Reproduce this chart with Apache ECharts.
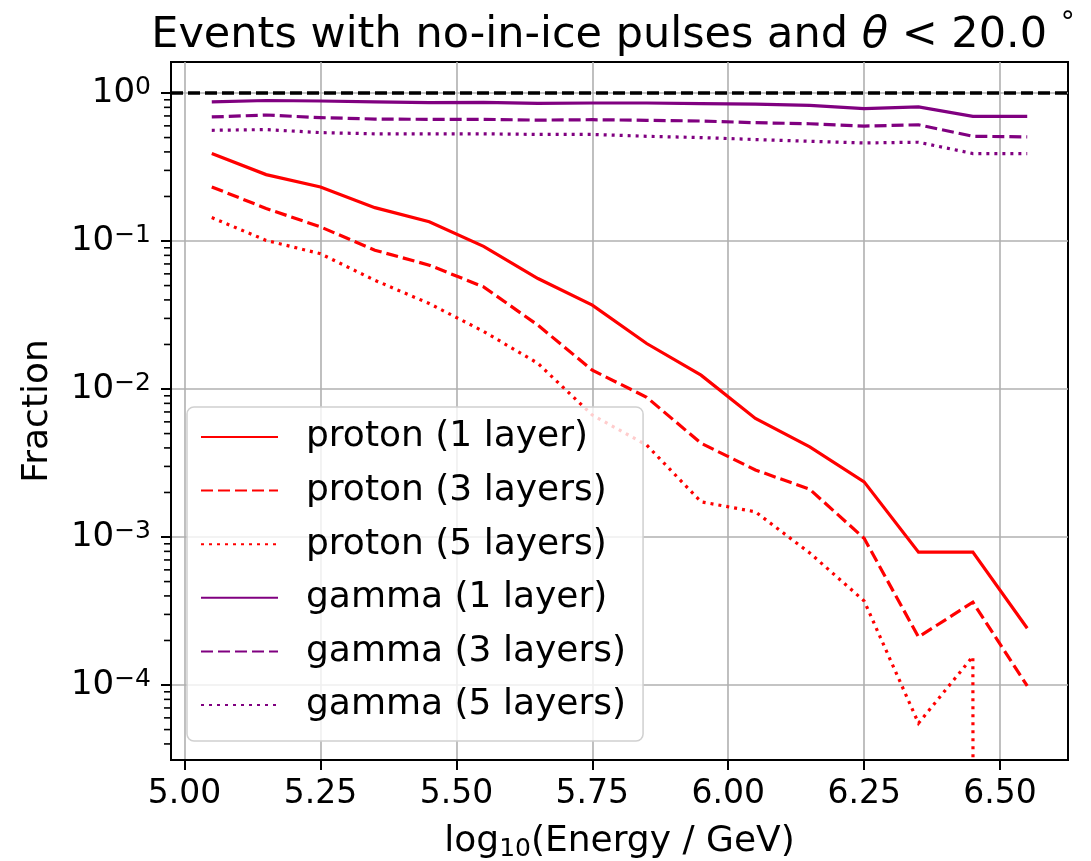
<!DOCTYPE html>
<html>
<head>
<meta charset="utf-8">
<script src="https://cdn.jsdelivr.net/npm/echarts@6/dist/echarts.min.js"></script>
<style>
html,body{margin:0;padding:0;background:#fff;}
#c{width:1091px;height:861px;}
</style>
</head>
<body>
<div id="c"></div>
<script>
// ---- data ----
const energy = [5.05, 5.15, 5.25, 5.35, 5.45, 5.55, 5.65, 5.75, 5.85, 5.95, 6.05, 6.15, 6.25, 6.35, 6.45, 6.55];
const proton1 = [0.39, 0.281, 0.232, 0.168, 0.135, 0.092, 0.0558, 0.0369, 0.0203, 0.0124, 0.00632, 0.00407, 0.00236, 0.00079, 0.00079, 0.000242];
const proton3 = [0.232, 0.166, 0.1245, 0.0867, 0.0687, 0.049, 0.027, 0.0134, 0.0088, 0.0043, 0.00284, 0.0021, 0.00098, 0.000211, 0.000363, 0.0000986];
const proton5 = [0.144, 0.101, 0.082, 0.0543, 0.0378, 0.0245, 0.0149, 0.00667, 0.00418, 0.00173, 0.00148, 0.00078, 0.00037, 0.0000552, 0.000156, 0];
const gamma1 = [0.872, 0.89, 0.883, 0.87, 0.862, 0.865, 0.85, 0.856, 0.856, 0.848, 0.84, 0.826, 0.785, 0.805, 0.696, 0.696];
const gamma3 = [0.689, 0.71, 0.682, 0.667, 0.664, 0.664, 0.656, 0.66, 0.654, 0.647, 0.63, 0.62, 0.598, 0.61, 0.51, 0.505];
const gamma5 = [0.56, 0.566, 0.54, 0.53, 0.53, 0.53, 0.525, 0.525, 0.51, 0.50, 0.485, 0.472, 0.46, 0.465, 0.39, 0.39];
const xTicks = [5.00, 5.25, 5.50, 5.75, 6.00, 6.25, 6.50];
const yTicks = [1e-4, 1e-3, 1e-2, 1e-1, 1];
const yMinorTicks = [];
for (let e = -5; e <= 0; e++) for (let m = 2; m <= 9; m++) yMinorTicks.push(m * Math.pow(10, e));
const referenceLevel = 1;

// ---- layout / style ----
const X_MIN = 4.975, X_MAX = 6.625;
const Y_MIN = 3.115e-5, Y_MAX = 1.62;
const FONT = 'DejaVu Sans';
const RED = '#ff0000', PURPLE = '#800080';
const SOLID = 'solid', DASH = [12, 5], DOT = [3, 5];
const MINOR_TICK_LEN = 7;

// matplotlib clips non-positive values on a log axis to a tiny positive number
const clipPos = v => (v > 0 ? v : 1e-300);
const pairs = arr => energy.map((x, i) => [x, clipPos(arr[i])]);

const seriesDefs = [
  {name: 'proton (1 layer)', data: proton1, color: RED, type: SOLID},
  {name: 'proton (3 layers)', data: proton3, color: RED, type: DASH},
  {name: 'proton (5 layers)', data: proton5, color: RED, type: DOT},
  {name: 'gamma (1 layer)', data: gamma1, color: PURPLE, type: SOLID},
  {name: 'gamma (3 layers)', data: gamma3, color: PURPLE, type: DASH},
  {name: 'gamma (5 layers)', data: gamma5, color: PURPLE, type: DOT}
];

const series = seriesDefs.map((s, i) => {
  const o = {
    name: s.name, type: 'line', data: pairs(s.data),
    showSymbol: false, symbol: 'none', clip: true,
    itemStyle: {color: s.color},
    lineStyle: {color: s.color, width: 3.2, type: s.type, cap: 'butt', join: 'miter'},
    emphasis: {disabled: true}, z: 3
  };
  if (i === seriesDefs.length - 1) {
    o.markLine = {
      silent: true, symbol: ['none', 'none'], label: {show: false},
      lineStyle: {color: '#000', width: 3.5, type: [12, 5]},
      data: [{yAxis: referenceLevel}]
    };
  }
  return o;
});

// minor tick marks of the log y axis, placed on the left spine through the axis scale
const minorTickData = yMinorTicks.filter(v => v >= Y_MIN && v <= Y_MAX).map(v => [X_MIN, v]);
series.push({
  type: 'line', name: '_minorTicks', data: minorTickData,
  coordinateSystem: 'cartesian2d',
  symbol: 'rect', symbolSize: [MINOR_TICK_LEN, 1.6], symbolOffset: [-MINOR_TICK_LEN / 2, 0],
  showSymbol: true, showAllSymbol: true, symbolKeepAspect: false,
  lineStyle: {width: 0, opacity: 0},
  itemStyle: {color: '#000'},
  clip: false, silent: true, z: 6, legendHoverLink: false,
  emphasis: {disabled: true}
});

function fmtLog(v) {
  const e = Math.round(Math.log10(v));
  const es = String(e).replace('-', '\u2212');
  return '{b|10}{s|' + es + '}';
}

const chart = echarts.init(document.getElementById('c'), null, {renderer: 'canvas'});
chart.setOption({
  animation: false,
  backgroundColor: '#fff',
  textStyle: {fontFamily: FONT, color: '#000'},
  title: {
    text: '{n|Events with no-in-ice pulses and }{i|\u03b8}{n| < 20.0 }{d|\u00b0}',
    left: 608, top: 5, textAlign: 'center',
    textStyle: {
      fontWeight: 'normal',
      rich: {
        n: {fontFamily: FONT, fontSize: 43, fontWeight: 'normal', color: '#000', lineHeight: 52},
        i: {fontFamily: FONT, fontSize: 43, fontWeight: 'normal', fontStyle: 'italic', color: '#000', lineHeight: 52},
        d: {fontFamily: FONT, fontSize: 28, fontWeight: 'normal', color: '#000', verticalAlign: 'top', lineHeight: 34}
      }
    }
  },
  grid: {left: 171, right: 23, top: 62, bottom: 101, containLabel: false, outerBoundsMode: 'none',
    show: true, borderColor: '#000', borderWidth: 2, backgroundColor: 'transparent'},
  legend: {
    orient: 'vertical', left: 187, top: 407,
    itemWidth: 77, itemHeight: 14, itemGap: 13.6,
    padding: [10, 17, 16, 13],
    backgroundColor: 'rgba(255,255,255,0.8)',
    borderColor: '#d0d0d0', borderWidth: 1.5, borderRadius: 7,
    itemStyle: {opacity: 0, borderWidth: 0},
    textStyle: {fontFamily: FONT, fontSize: 36, color: '#000', lineHeight: 40, padding: [0, 0, 0, 23]},
    data: seriesDefs.map(s => s.name),
    selectedMode: false
  },
  xAxis: {
    type: 'value', min: X_MIN, max: X_MAX,
    axisLine: {show: true, onZero: false, lineStyle: {color: '#000', width: 2}},
    axisTick: {show: true, customValues: xTicks, length: 10, lineStyle: {color: '#000', width: 2}},
    axisLabel: {customValues: xTicks, margin: 18, fontFamily: FONT, fontSize: 33, color: '#000',
      formatter: v => v.toFixed(2)},
    splitLine: {show: true, lineStyle: {color: '#b0b0b0', width: 1.6}},
    name: '{a|log}{s|10}{a|(Energy / GeV)}', nameLocation: 'middle', nameGap: 62,
    nameTextStyle: {
      rich: {
        a: {fontFamily: FONT, fontSize: 36, color: '#000', lineHeight: 40},
        s: {fontFamily: FONT, fontSize: 25, color: '#000', verticalAlign: 'bottom', lineHeight: 25}
      }
    }
  },
  yAxis: {
    type: 'log', logBase: 10, min: Y_MIN, max: Y_MAX, position: 'left',
    axisLine: {show: true, lineStyle: {color: '#000', width: 2}},
    axisTick: {show: true, customValues: yTicks, length: 10, lineStyle: {color: '#000', width: 2}},
    axisLabel: {customValues: yTicks, margin: 20, formatter: fmtLog,
      rich: {
        b: {fontFamily: FONT, fontSize: 34, color: '#000', lineHeight: 36},
        s: {fontFamily: FONT, fontSize: 25, color: '#000', verticalAlign: 'top', lineHeight: 25}
      }},
    splitLine: {show: true, lineStyle: {color: '#b0b0b0', width: 1.6}},
    name: 'Fraction', nameLocation: 'middle', nameGap: 115,
    nameTextStyle: {fontFamily: FONT, fontSize: 36, color: '#000'}
  },
  series: series
});
</script>
</body>
</html>
